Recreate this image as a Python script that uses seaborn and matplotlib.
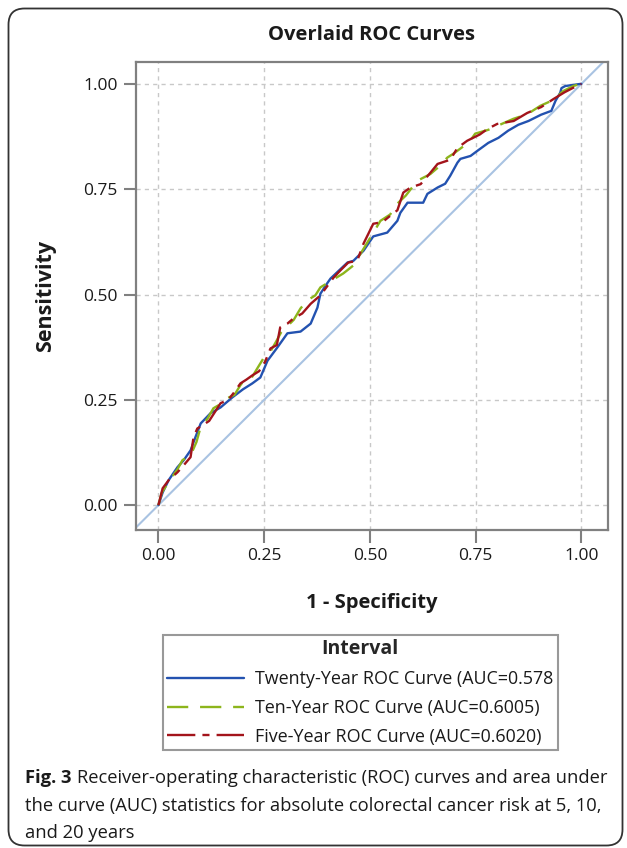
import matplotlib
matplotlib.use("Agg")
import matplotlib.pyplot as plt
from matplotlib.patches import FancyBboxPatch
import pandas as pd
import seaborn as sns

# ROC points (1 - specificity, sensitivity)
twenty_fpr = [0, 0.010, 0.024, 0.045, 0.060, 0.076, 0.087, 0.100, 0.123, 0.147, 0.175, 0.200, 0.222,
              0.241, 0.258, 0.281, 0.305, 0.336, 0.360, 0.376, 0.383, 0.400, 0.407, 0.447, 0.461, 0.485,
              0.508, 0.541, 0.565, 0.572, 0.589, 0.626, 0.636, 0.660, 0.678, 0.690, 0.707, 0.714, 0.738,
              0.754, 0.780, 0.804, 0.827, 0.851, 0.875, 0.905, 0.929, 0.939, 0.950, 0.953, 0.962, 0.998, 1.0]
twenty_tpr = [0, 0.030, 0.059, 0.090, 0.107, 0.130, 0.160, 0.194, 0.218, 0.232, 0.256, 0.275, 0.289,
              0.303, 0.343, 0.374, 0.408, 0.412, 0.431, 0.469, 0.502, 0.528, 0.538, 0.576, 0.580, 0.604,
              0.638, 0.647, 0.675, 0.694, 0.718, 0.718, 0.739, 0.754, 0.763, 0.782, 0.813, 0.822, 0.829,
              0.841, 0.860, 0.872, 0.889, 0.903, 0.912, 0.927, 0.936, 0.960, 0.979, 0.990, 0.995, 1.0, 1.0]

ten_fpr = [0, 0.008, 0.024, 0.045, 0.057, 0.076, 0.090, 0.100, 0.116, 0.130, 0.147, 0.163, 0.180,
           0.194, 0.206, 0.222, 0.234, 0.248, 0.265, 0.277, 0.290, 0.305, 0.320, 0.336, 0.352, 0.371,
           0.383, 0.414, 0.437, 0.461, 0.478, 0.501, 0.525, 0.548, 0.560, 0.585, 0.612, 0.643, 0.665,
           0.683, 0.697, 0.712, 0.735, 0.749, 0.780, 0.805, 0.839, 0.872, 0.903, 0.934, 0.957, 0.981, 0.998, 1.0]
ten_tpr = [0, 0.030, 0.055, 0.085, 0.107, 0.118, 0.150, 0.186, 0.205, 0.230, 0.240, 0.254, 0.262,
           0.285, 0.301, 0.305, 0.325, 0.348, 0.365, 0.386, 0.410, 0.425, 0.440, 0.467, 0.486, 0.498,
           0.517, 0.536, 0.550, 0.569, 0.597, 0.635, 0.675, 0.690, 0.711, 0.735, 0.770, 0.786, 0.805,
           0.825, 0.834, 0.845, 0.862, 0.882, 0.891, 0.902, 0.917, 0.928, 0.948, 0.962, 0.983, 0.995, 1.0, 1.0]

five_fpr = [0, 0.005, 0.010, 0.024, 0.045, 0.060, 0.076, 0.083, 0.092, 0.105, 0.120, 0.147, 0.165,
            0.177, 0.194, 0.208, 0.222, 0.238, 0.252, 0.265, 0.280, 0.288, 0.305, 0.319, 0.340, 0.360,
            0.383, 0.414, 0.430, 0.449, 0.470, 0.485, 0.508, 0.530, 0.548, 0.565, 0.579, 0.596, 0.620,
            0.643, 0.660, 0.690, 0.707, 0.730, 0.760, 0.778, 0.801, 0.840, 0.872, 0.905, 0.934, 0.960, 0.985, 1.0]
five_tpr = [0, 0.020, 0.040, 0.059, 0.078, 0.095, 0.114, 0.161, 0.182, 0.190, 0.200, 0.242, 0.250,
            0.265, 0.289, 0.298, 0.308, 0.318, 0.340, 0.372, 0.380, 0.422, 0.431, 0.443, 0.455, 0.478,
            0.498, 0.540, 0.557, 0.576, 0.580, 0.621, 0.668, 0.672, 0.687, 0.700, 0.742, 0.754, 0.762,
            0.789, 0.810, 0.820, 0.848, 0.865, 0.880, 0.893, 0.905, 0.912, 0.931, 0.945, 0.964, 0.980, 0.993, 1.0]

curve_labels = ["Twenty-Year ROC Curve (AUC=0.578",
                "Ten-Year ROC Curve (AUC=0.6005)",
                "Five-Year ROC Curve (AUC=0.6020)"]
ticks = [0.0, 0.25, 0.5, 0.75, 1.0]
tick_labels = ["0.00", "0.25", "0.50", "0.75", "1.00"]

sns.set_style("whitegrid")
plt.rcParams['font.family'] = ['Open Sans', 'DejaVu Sans']
text_col = "#1a1a1a"

fig = plt.figure(figsize=(6.27, 8.48), dpi=100)
ax = fig.add_axes([136 / 627, 1 - 530 / 848, 472 / 627, 468 / 848])

# chance diagonal
ax.axline((0, 0), slope=1, color="#a9c3e2", lw=1.5, zorder=1)

styles = [
    dict(color="#2352b0", linestyle="-"),
    dict(color="#8db51c", linestyle=(0, (9, 5))),
    dict(color="#a3141b", linestyle=(0, (12, 3, 3, 3))),
]
series = [(twenty_fpr, twenty_tpr), (ten_fpr, ten_tpr), (five_fpr, five_tpr)]
for (fx, ty), lab, st in zip(series, curve_labels, styles):
    df = pd.DataFrame({"fpr": fx, "tpr": ty})
    sns.lineplot(data=df, x="fpr", y="tpr", ax=ax, estimator=None, sort=False,
                 lw=1.7, label=lab, zorder=3, **st)

ax.set_xlim(-0.053, 1.063)
ax.set_ylim(-0.059, 1.052)
ax.set_xticks(ticks, tick_labels)
ax.set_yticks(ticks, tick_labels)
ax.grid(True, color="#c8c8c8", linestyle=(0, (3, 3)), lw=1.0)
for sp in ax.spines.values():
    sp.set_color("#808080")
    sp.set_linewidth(1.6)
ax.tick_params(axis="both", length=9, width=1.5, color="#808080", labelsize=12.5,
               labelcolor=text_col, pad=4, left=True, bottom=True)

ax.set_title("Overlaid ROC Curves", fontsize=14.5, fontweight="bold", color=text_col, pad=16)
ax.set_xlabel("1 - Specificity", fontsize=14.5, fontweight="bold", color=text_col, labelpad=21)
ax.set_ylabel("Sensitivity", fontsize=15.5, fontweight="bold", color=text_col, labelpad=20)

handles, labels = ax.get_legend_handles_labels()
ax.get_legend().remove()
leg = fig.legend(handles, labels, title="Interval", loc="upper center",
                 bbox_to_anchor=(360 / 627, 1 - 635 / 848), fontsize=12.9,
                 title_fontproperties={"weight": "bold", "size": 14},
                 handlelength=4.3, handletextpad=0.6, labelspacing=0.6,
                 borderpad=0.25, borderaxespad=0, frameon=True, fancybox=False)
leg.get_frame().set_edgecolor("#808080")
leg.get_frame().set_linewidth(1.5)
for t in leg.get_texts():
    t.set_color(text_col)

# caption
cap_size = 13.2
cap1 = fig.text(25 / 627, 1 - 787 / 848, "Fig. 3", fontsize=cap_size, fontweight="bold",
                color=text_col, va="bottom")
ax.annotate("Receiver-operating characteristic (ROC) curves and area under",
            xy=(1, 0), xycoords=cap1, xytext=(4, 0), textcoords="offset points",
            fontsize=cap_size, color=text_col, va="bottom", annotation_clip=False)
fig.text(25 / 627, 1 - 815 / 848,
         "the curve (AUC) statistics for absolute colorectal cancer risk at 5, 10,",
         fontsize=cap_size, color=text_col, va="bottom")
fig.text(25 / 627, 1 - 842 / 848, "and 20 years", fontsize=cap_size, color=text_col, va="bottom")

# rounded outer frame
frame = FancyBboxPatch((0.085, 0.025), 6.14, 8.37, boxstyle="round,pad=0,rounding_size=0.16",
                       transform=fig.dpi_scale_trans, fill=False, edgecolor="#333333", lw=1.3)
fig.patches.append(frame)

fig.savefig("out.png", dpi=100)
